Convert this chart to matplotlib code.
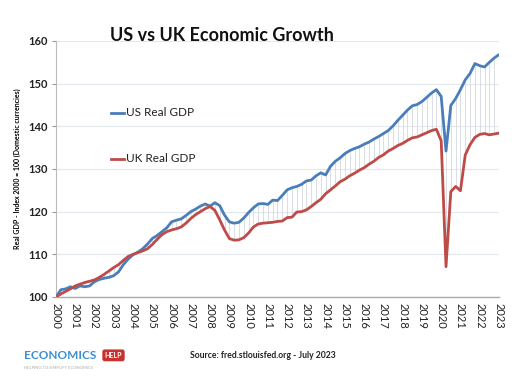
import numpy as np
import matplotlib
matplotlib.use("Agg")
from matplotlib import pyplot as plt

plt.rcParams['font.family'] = ['Lato', 'DejaVu Sans']

# Quarterly index values, 2000 Q1 = 100, from 2000 Q1 to 2023 Q1
us_gdp = [
    100.0, 101.7, 101.9, 102.4,
    102.0, 102.6, 102.4, 102.6,
    103.6, 104.1, 104.4, 104.6,
    105.0, 105.9, 107.6, 108.9,
    109.9, 110.5, 111.3, 112.4,
    113.7, 114.4, 115.3, 116.2,
    117.6, 118.0, 118.3, 119.1,
    120.0, 120.6, 121.3, 121.8,
    121.3, 122.1, 121.4, 119.2,
    117.6, 117.3, 117.5, 118.5,
    119.8, 120.9, 121.8, 121.9,
    121.7, 122.7, 122.6, 123.8,
    125.1, 125.6, 125.9, 126.4,
    127.2, 127.4, 128.4, 129.1,
    128.6, 130.6, 131.8, 132.6,
    133.6, 134.3, 134.8, 135.2,
    135.8, 136.3, 137.0, 137.6,
    138.3, 139.0, 140.1, 141.4,
    142.6, 143.8, 144.8, 145.1,
    145.8, 146.8, 147.8, 148.6,
    147.0, 134.2, 144.9, 146.5,
    148.6, 150.9, 152.4, 154.7,
    154.2, 153.9, 155.0, 156.0,
    156.8,
]
uk_gdp = [
    100.0, 100.7, 101.3, 101.9,
    102.6, 103.0, 103.4, 103.7,
    104.0, 104.6, 105.3, 106.1,
    106.9, 107.6, 108.6, 109.5,
    110.0, 110.4, 110.8, 111.3,
    112.3, 113.5, 114.6, 115.3,
    115.7, 116.0, 116.4, 117.3,
    118.4, 119.3, 120.0, 120.7,
    121.2, 120.3, 118.1, 115.7,
    113.7, 113.3, 113.4, 113.9,
    115.0, 116.4, 117.1, 117.3,
    117.4, 117.5, 117.7, 117.8,
    118.6, 118.7, 119.9, 120.0,
    120.4, 121.2, 122.1, 122.9,
    124.2, 125.1, 126.0, 127.0,
    127.6, 128.4, 129.0, 129.7,
    130.3, 131.1, 131.8, 132.7,
    133.3, 134.2, 134.8, 135.5,
    136.0, 136.7, 137.3, 137.5,
    138.0, 138.5, 139.0, 139.3,
    136.6, 107.1, 124.7, 125.9,
    124.9, 133.3, 135.7, 137.4,
    138.1, 138.3, 138.0, 138.2,
    138.4,
]
years = list(range(2000, 2024))

US_BLUE = '#4a7ebb'
UK_RED = '#be4b48'


def draw_chart():
    t = 2000 + np.arange(len(us_gdp)) / 4.0

    fig = plt.figure(figsize=(5.16, 3.85), dpi=100)
    ax = fig.add_axes([0.1085, 0.2286, 0.8585, 0.665])

    # high-low lines between the two series
    ax.vlines(t, uk_gdp, us_gdp, color='#d4d9e0', lw=0.6, zorder=1)
    ax.plot(t, us_gdp, color=US_BLUE, lw=2.0, zorder=3, solid_capstyle='round')
    ax.plot(t, uk_gdp, color=UK_RED, lw=2.0, zorder=3, solid_capstyle='round')

    ax.set_xlim(2000, 2023)
    ax.set_ylim(100, 160)
    ax.set_yticks(range(100, 161, 10))
    ax.set_xticks(years)
    ax.set_xticklabels([str(y) for y in years], rotation=-90, fontsize=8,
                       color='#222222')
    ax.tick_params(axis='x', length=0, pad=4)
    ax.tick_params(axis='y', length=3, color='#999999', pad=3, labelsize=8,
                   labelcolor='#222222')
    for lab in ax.get_yticklabels():
        lab.set_fontweight('bold')

    ax.grid(axis='y', color='#e3e8ef', lw=0.8)
    ax.set_axisbelow(True)
    for s in ['top', 'right']:
        ax.spines[s].set_visible(False)
    ax.spines['left'].set_color('#bbbbbb')
    ax.spines['bottom'].set_color('#aaaaaa')
    ax.spines['bottom'].set_linewidth(1.0)

    ax.set_ylabel('Real GDP - Index 2000 = 100 (Domestic currencies)',
                  fontsize=5, fontweight='bold', labelpad=5)

    # series labels inside the plot
    for yy, name, col in [(0.719, 'US Real GDP', US_BLUE),
                          (0.539, 'UK Real GDP', UK_RED)]:
        ax.plot([0.124, 0.153], [yy, yy], color=col, lw=2.0,
                transform=ax.transAxes)
        ax.text(0.157, yy, name, transform=ax.transAxes, fontsize=8.5,
                va='center', ha='left', color='#222222')

    fig.text(0.213, 0.908, 'US vs UK Economic Growth', fontsize=13,
             fontweight='bold', ha='left', va='center', color='#111111')

    # footer
    fig.text(0.046, 0.077, 'ECONOMICS', fontsize=8.5, fontweight='bold',
             color='#3b8ed3', ha='left', va='center')
    fig.text(0.203, 0.077, 'HELP', fontsize=5, fontweight='bold',
             color='white', ha='left', va='center',
             bbox=dict(boxstyle='round,pad=0.35', fc='#c8312f', ec='none'))
    fig.text(0.046, 0.043, 'HELPING TO SIMPLIFY ECONOMICS', fontsize=3,
             color='#aaaaaa', ha='left', va='center')
    fig.text(0.368, 0.077, 'Source: fred.stlouisfed.org - July 2023',
             fontsize=6.2, fontweight='bold', color='#222222',
             ha='left', va='center')

    fig.savefig('out.png', dpi=100, facecolor='white')


if __name__ == '__main__':
    draw_chart()
